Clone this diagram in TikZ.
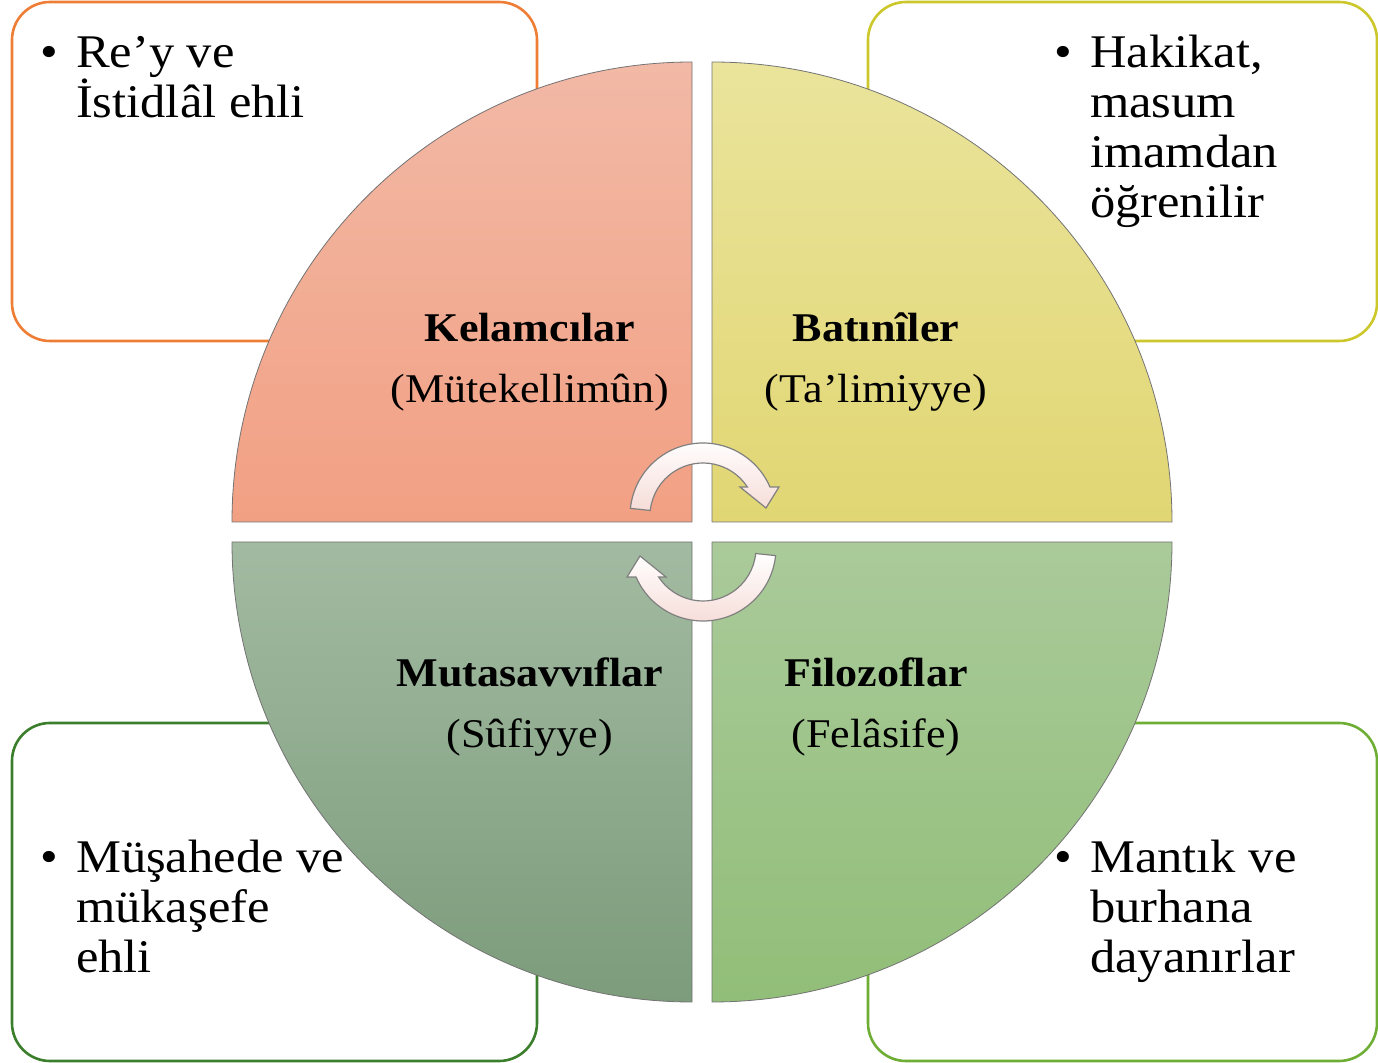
\documentclass[tikz,border=0pt]{standalone}
\usepackage{fontspec}
\setmainfont[FakeStretch=1.08]{Liberation Serif}
\usepackage{tikz}
\usepackage{xcolor}

\definecolor{kelamTop}{HTML}{F2B9A6}
\definecolor{kelamBottom}{HTML}{F2A083}
\definecolor{batinTop}{HTML}{EAE49C}
\definecolor{batinBottom}{HTML}{E1D673}
\definecolor{sufiTop}{HTML}{A2BAA1}
\definecolor{sufiBottom}{HTML}{7C9C7B}
\definecolor{felsefeTop}{HTML}{AACA9A}
\definecolor{felsefeBottom}{HTML}{91BE78}
\definecolor{edgeOrange}{HTML}{EE7D35}
\definecolor{edgeYellow}{HTML}{CCC72A}
\definecolor{edgeDarkGreen}{HTML}{3B7E2B}
\definecolor{edgeGreen}{HTML}{6EAE34}
\definecolor{arrowPink}{HTML}{F6DCD8}

\begin{document}
\begin{tikzpicture}[x=0.5pt, y=-0.5pt, line join=round, line cap=round,
  cornerbox/.style={line width=1.3pt, fill=white, rounded corners=19pt},
  quarter/.style={draw=black!55, line width=0.4pt},
  quadtitle/.style={anchor=base, inner sep=0pt, font=\fontsize{20.4}{30.5}\selectfont},
  bulletlist/.style={anchor=base west, inner sep=0pt, font=\fontsize{23.4}{25}\selectfont},
  cyclearrow/.style={draw=black!50, line width=0.6pt, line join=miter, top color=white, bottom color=arrowPink}]
\useasboundingbox (0,0) rectangle (1378,1063);

% Corner boxes
\draw[cornerbox, draw=edgeOrange] (12,2) rectangle (537,341);
\draw[cornerbox, draw=edgeYellow] (868,2) rectangle (1377,341);
\draw[cornerbox, draw=edgeDarkGreen] (12,723) rectangle (537,1061);
\draw[cornerbox, draw=edgeGreen] (868,723) rectangle (1377,1061);

% Bullet texts
\node[bulletlist] (rey) at (40,68) {\begin{tabular}[t]{@{}l@{\hspace{9pt}}l@{}}\textbullet & Re’y ve\\ & \smash{İ}stidlâl ehli\end{tabular}};
\node[bulletlist] (hakikat) at (1054,68) {\begin{tabular}[t]{@{}l@{\hspace{9pt}}l@{}}\textbullet & Hakikat,\\ & masum\\ & imamdan\\ & öğrenilir\end{tabular}};
\node[bulletlist] (musahede) at (40,873) {\begin{tabular}[t]{@{}l@{\hspace{9pt}}l@{}}\textbullet & Müşahede ve\\ & mükaşefe\\ & ehli\end{tabular}};
\node[bulletlist] (mantik) at (1054,873) {\begin{tabular}[t]{@{}l@{\hspace{9pt}}l@{}}\textbullet & Mantık ve\\ & burhana\\ & dayanırlar\end{tabular}};

% Quarter disks
\draw[quarter, top color=kelamTop, bottom color=kelamBottom] (692,522) -- (232,522) arc[start angle=180, end angle=270, radius=460] -- cycle;
\draw[quarter, top color=batinTop, bottom color=batinBottom] (712,522) -- (712,62) arc[start angle=270, end angle=360, radius=460] -- cycle;
\draw[quarter, top color=felsefeTop, bottom color=felsefeBottom] (712,542) -- (1172,542) arc[start angle=0, end angle=90, radius=460] -- cycle;
\draw[quarter, top color=sufiTop, bottom color=sufiBottom] (692,542) -- (692,1002) arc[start angle=90, end angle=180, radius=460] -- cycle;

% Quadrant titles
\node[quadtitle] (kelam) at (530,342) {\begin{tabular}[t]{@{}c@{}}\textbf{Kelamcılar}\\(Mütekellimûn)\end{tabular}};
\node[quadtitle] (batin) at (876,342) {\begin{tabular}[t]{@{}c@{}}\textbf{Batınîler}\\(Ta’limiyye)\end{tabular}};
\node[quadtitle] (sufi) at (530,687) {\begin{tabular}[t]{@{}c@{}}\textbf{Mutasavvıflar}\\(Sûfiyye)\end{tabular}};
\node[quadtitle] (felsefe) at (876,687) {\begin{tabular}[t]{@{}c@{}}\textbf{Filozoflar}\\(Felâsife)\end{tabular}};

% Cycle arrows in the middle
\coordinate (upc) at (703,516);
\coordinate (lowc) at (703,548);
\draw[cyclearrow] ([shift={(186:73)}]upc) arc[start angle=186, end angle=336.6, radius=73]
  -- ([shift={(76,-29)}]upc) -- ([shift={(63,-8)}]upc) -- ([shift={(37,-29)}]upc)
  -- ([shift={(326.8:53)}]upc) arc[start angle=326.8, end angle=186, radius=53] -- cycle;
\draw[cyclearrow] ([shift={(6:73)}]lowc) arc[start angle=6, end angle=156.6, radius=73]
  -- ([shift={(-76,29)}]lowc) -- ([shift={(-63,8)}]lowc) -- ([shift={(-37,29)}]lowc)
  -- ([shift={(146.8:53)}]lowc) arc[start angle=146.8, end angle=6, radius=53] -- cycle;

\end{tikzpicture}
\end{document}
